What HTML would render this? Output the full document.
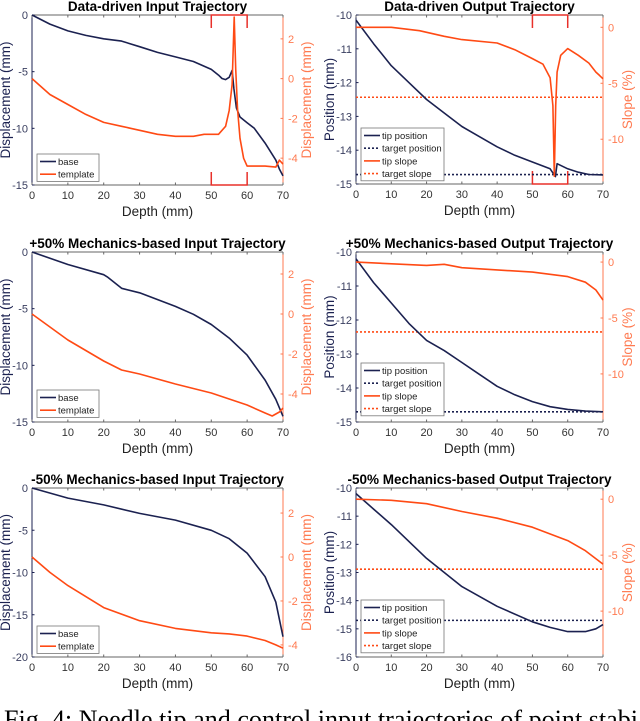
<!DOCTYPE html>
<html><head><meta charset="utf-8">
<style>
html,body{margin:0;padding:0;background:#fff;width:640px;height:721px;overflow:hidden}
svg{display:block}
text{font-family:"Liberation Sans","DejaVu Sans",sans-serif}
</style></head>
<body>
<svg id="fig" width="640" height="721" viewBox="0 0 640 721" xmlns="http://www.w3.org/2000/svg">
<text x="4" y="728" font-size="26" textLength="634" lengthAdjust="spacingAndGlyphs" fill="#000" style="font-family:'Liberation Serif',serif">Fig. 4: Needle tip and control input trajectories of point stabi</text>
</svg>
<script>
// ---------- data ----------
const xTicks = [0,10,20,30,40,50,60,70];
// Panel 1: data-driven input
const p1BaseX = [0,5,10,15,20,25,30,35,40,45,50,52,53,54,55,55.8,56.3,57,58,60,62,65,68,69,70];
const p1BaseY = [0,-0.8,-1.4,-1.8,-2.1,-2.3,-2.8,-3.3,-3.7,-4.1,-4.8,-5.3,-5.6,-5.7,-5.5,-4.9,-6.5,-8.2,-9.0,-9.5,-10.0,-11.3,-12.8,-13.6,-14.2];
const p1TplX = [0,5,10,15,20,25,30,35,40,45,48,52,54,55,55.8,56.4,56.8,57.3,58,59,60,65,68,69,70];
const p1TplY = [0,-0.8,-1.3,-1.8,-2.2,-2.4,-2.6,-2.8,-2.9,-2.9,-2.8,-2.8,-2.4,-1.6,-0.3,3.1,0.5,-1.5,-3.0,-4.0,-4.4,-4.4,-4.45,-4.1,-4.3];
// Panel 2: data-driven output
const p2PosX = [0,5,10,15,20,25,30,35,40,45,50,55,56.5,57,60,63,66,70];
const p2PosY = [-10.15,-10.85,-11.5,-12.0,-12.5,-12.9,-13.3,-13.6,-13.9,-14.15,-14.35,-14.55,-14.78,-14.4,-14.55,-14.65,-14.72,-14.73];
const p2SlopeX = [0,10,18,25,30,40,45,50,53,55,55.8,56.2,56.6,57,58,60,63,66,68,69,70];
const p2SlopeY = [0,0,-0.3,-0.8,-1.1,-1.4,-2.0,-2.8,-3.3,-4.5,-7.0,-13.3,-7.0,-4.0,-2.5,-1.9,-2.5,-3.2,-4.0,-4.3,-4.6];
const p2Targets = [-14.72,-6.25];
// Panel 3: +50% input
const p3BaseX = [0,10,20,21,25,30,40,45,50,55,60,65,68,70];
const p3BaseY = [0,-1.1,-2.0,-2.2,-3.2,-3.6,-4.8,-5.5,-6.4,-7.6,-9.1,-11.3,-13.0,-14.5];
const p3TplX = [0,10,20,25,30,40,50,60,65,67,69,70];
const p3TplY = [0,-1.3,-2.35,-2.8,-3.0,-3.5,-3.95,-4.55,-4.95,-5.1,-4.9,-4.7];
// Panel 4: +50% output
const p4PosX = [0,5,10,15,20,25,30,35,40,45,50,55,60,65,70];
const p4PosY = [-10.2,-10.9,-11.5,-12.1,-12.6,-12.9,-13.25,-13.6,-13.95,-14.2,-14.4,-14.55,-14.63,-14.68,-14.7];
const p4SlopeX = [0,20,25,30,40,50,60,65,68,70];
const p4SlopeY = [0,-0.3,-0.2,-0.5,-0.7,-0.9,-1.3,-1.8,-2.5,-3.4];
const p4Targets = [-14.7,-6.25];
// Panel 5: -50% input
const p5BaseX = [0,10,20,30,40,50,55,60,65,68,70];
const p5BaseY = [0,-1.2,-2.0,-3.0,-3.8,-5.0,-6.0,-7.7,-10.5,-13.5,-17.6];
const p5TplX = [0,5,10,20,30,40,50,55,60,65,68,70];
const p5TplY = [0,-0.7,-1.3,-2.3,-2.9,-3.25,-3.45,-3.5,-3.6,-3.8,-4.0,-4.15];
// Panel 6: -50% output
const p6PosX = [0,5,10,20,30,40,50,55,60,65,68,70];
const p6PosY = [-10.2,-10.75,-11.3,-12.5,-13.5,-14.2,-14.75,-14.95,-15.1,-15.1,-15.0,-14.85];
const p6SlopeX = [0,10,20,30,40,50,60,65,70];
const p6SlopeY = [0,-0.1,-0.4,-1.1,-1.7,-2.5,-3.7,-4.6,-5.8];
const p6Targets = [-14.7,-6.25];

const NAVY = '#1b2150', ORANGE = '#ff4a14', RAX = '#ff7a50';
const svg = document.getElementById('fig');
const NS = 'http://www.w3.org/2000/svg';
function mk(tag, attrs, parent){
  const e = document.createElementNS(NS, tag);
  for (const k in attrs) e.setAttribute(k, attrs[k]);
  (parent||svg).appendChild(e);
  return e;
}

function panel(cfg){
  const g = mk('g', {});
  
  
  const L=cfg.x0, R=cfg.x1, T=cfg.y0, B=cfg.y1;
  const sx = v => L + (v-0)/(70-0)*(R-L);
  const syL = v => T + (cfg.lmax - v)/(cfg.lmax - cfg.lmin)*(B-T);
  const syR = v => T + (cfg.rmax - v)/(cfg.rmax - cfg.rmin)*(B-T);
  const t = mk('text', {x:(L+R)/2, y:T-4, 'text-anchor':'middle', 'font-size':13.5, 'font-weight':'bold', fill:'#000'}, g);
  t.textContent = cfg.title;
  
  
  mk('line', {x1:L, y1:T, x2:R, y2:T, stroke:'#666', 'stroke-width':1}, g);
  const xa = mk('line', {x1:L, y1:B, x2:R, y2:B, stroke:'#666', 'stroke-width':1}, g);
  
  
  const la = mk('line', {x1:L, y1:T, x2:L, y2:B, stroke:NAVY, 'stroke-width':1}, g);
  
  
  const ra = mk('line', {x1:R, y1:T, x2:R, y2:B, stroke:RAX, 'stroke-width':1}, g);
  
  
  xTicks.forEach(v => {
    mk('line', {x1:sx(v), y1:B, x2:sx(v), y2:B-2.5, stroke:'#666'}, g);
    mk('line', {x1:sx(v), y1:T, x2:sx(v), y2:T+2.5, stroke:'#666'}, g);
    const tl = mk('text', {x:sx(v), y:B+14, 'text-anchor':'middle', 'font-size':11, fill:'#333'}, g);
    tl.textContent = v;
    
    
  });
  const xl = mk('text', {x:(L+R)/2, y:B+31, 'text-anchor':'middle', 'font-size':13.5, fill:'#222'}, g);
  xl.textContent = 'Depth (mm)';
  
  
  cfg.lticks.forEach(v => {
    mk('line', {x1:L, y1:syL(v), x2:L+2.5, y2:syL(v), stroke:NAVY}, g);
    const tl = mk('text', {x:L-4, y:syL(v)+4, 'text-anchor':'end', 'font-size':11, fill:'#3a3f60'}, g);
    tl.textContent = v;
    
    
  });
  const yl = mk('text', {x:0, y:0, 'text-anchor':'middle', 'font-size':13.5, fill:NAVY, transform:`translate(${cfg.lTitleX},${(T+B)/2}) rotate(-90)`}, g);
  yl.textContent = cfg.ltitle;
  
  
  cfg.rticks.forEach(v => {
    mk('line', {x1:R, y1:syR(v), x2:R-2.5, y2:syR(v), stroke:RAX}, g);
    const tl = mk('text', {x:R+5, y:syR(v)+4, 'text-anchor':'start', 'font-size':11, fill:RAX}, g);
    tl.textContent = v;
    
    
  });
  const yr = mk('text', {x:0, y:0, 'text-anchor':'middle', 'font-size':13.5, fill:RAX, transform:`translate(${cfg.rTitleX},${(T+B)/2}) rotate(-90)`}, g);
  yr.textContent = cfg.rtitle;
  
  
  if (cfg.bracket){
    const a = sx(50), b = sx(60);
    const br1 = mk('path', {d:`M${a},${T+13}V${T}H${b}V${T+13}`, fill:'none', stroke:'#e8302a', 'stroke-width':1.5}, g);
    
    
    const br2 = mk('path', {d:`M${a},${B-13}V${B}H${b}V${B-13}`, fill:'none', stroke:'#e8302a', 'stroke-width':1.5}, g);
    
    
  }
  if (cfg.targets){
    const tp = mk('line', {x1:L, x2:R, y1:syL(cfg.targets[0]), y2:syL(cfg.targets[0]), stroke:NAVY, 'stroke-width':1.6, 'stroke-dasharray':'2 2'}, g);
    
    
    const ts = mk('line', {x1:L, x2:R, y1:syR(cfg.targets[1]), y2:syR(cfg.targets[1]), stroke:ORANGE, 'stroke-width':1.6, 'stroke-dasharray':'2 2'}, g);
    
    
  }
  const pl = (xs, ys, sy, col, name) => {
    const p = mk('polyline', {points: xs.map((x,i)=>sx(x).toFixed(1)+','+sy(ys[i]).toFixed(1)).join(' '), fill:'none', stroke:col, 'stroke-width':1.6, 'stroke-linejoin':'round'}, g);
    
    
  };
  pl(cfg.lx, cfg.ly, syL, NAVY, cfg.lname);
  pl(cfg.rx, cfg.ry, syR, ORANGE, cfg.rname);
  const lg = mk('g', {}, g);
  
  
  const entries = cfg.legend;
  const lx = L+5, lh = entries.length*12.7+2, ly = cfg.legY;
  const lw = cfg.legW;
  mk('rect', {x:lx, y:ly, width:lw, height:lh, fill:'#fff', stroke:'#777', 'stroke-width':0.8}, lg);
  entries.forEach((e,i) => {
    const yy = ly + 7.5 + i*12.7;
    mk('line', {x1:lx+3, x2:lx+19, y1:yy, y2:yy, stroke:e[1], 'stroke-width':1.6, 'stroke-dasharray': e[2]?'2 2':'none'}, lg);
    const tx = mk('text', {x:lx+21, y:yy+3.5, 'font-size':9.5, fill:'#222'}, lg);
    tx.textContent = e[0];
    
    
  });
}

const inLeg = [['base',NAVY,false],['template',ORANGE,false]];
const outLeg = [['tip position',NAVY,false],['target position',NAVY,true],['tip slope',ORANGE,false],['target slope',ORANGE,true]];

panel({name:'panel-data-driven-input', title:'Data-driven Input Trajectory', x0:32,x1:283,y0:15,y1:185,
  lmin:-15,lmax:0,rmin:-5.35,rmax:3.2,lticks:[0,-5,-10,-15],rticks:[2,0,-2,-4],
  ltitle:'Displacement (mm)', rtitle:'Displacement (mm)', lTitleX:10, rTitleX:311,
  lx:p1BaseX, ly:p1BaseY, rx:p1TplX, ry:p1TplY, lname:'base-line', rname:'template-line',
  bracket:true, legend:inLeg, legY:154, legW:62});
panel({name:'panel-data-driven-output', title:'Data-driven Output Trajectory', x0:356,x1:603,y0:15,y1:184,
  lmin:-15,lmax:-10,rmin:-14.0,rmax:1.1,lticks:[-10,-11,-12,-13,-14,-15],rticks:[0,-5,-10],
  ltitle:'Position (mm)', rtitle:'Slope (%)', lTitleX:334, rTitleX:632,
  lx:p2PosX, ly:p2PosY, rx:p2SlopeX, ry:p2SlopeY, lname:'tip-position-line', rname:'tip-slope-line',
  targets:p2Targets, bracket:true, legend:outLeg, legY:128, legW:83});
panel({name:'panel-plus50-input', title:'+50% Mechanics-based Input Trajectory', x0:32,x1:283,y0:252,y1:422,
  lmin:-15,lmax:0,rmin:-5.4,rmax:3.1,lticks:[0,-5,-10,-15],rticks:[2,0,-2,-4],
  ltitle:'Displacement (mm)', rtitle:'Displacement (mm)', lTitleX:10, rTitleX:311,
  lx:p3BaseX, ly:p3BaseY, rx:p3TplX, ry:p3TplY, lname:'base-line', rname:'template-line',
  legend:inLeg, legY:390, legW:62});
panel({name:'panel-plus50-output', title:'+50% Mechanics-based Output Trajectory', x0:356,x1:603,y0:252,y1:422,
  lmin:-15,lmax:-10,rmin:-14.3,rmax:0.9,lticks:[-10,-11,-12,-13,-14,-15],rticks:[0,-5,-10],
  ltitle:'Position (mm)', rtitle:'Slope (%)', lTitleX:334, rTitleX:632,
  lx:p4PosX, ly:p4PosY, rx:p4SlopeX, ry:p4SlopeY, lname:'tip-position-line', rname:'tip-slope-line',
  targets:p4Targets, legend:outLeg, legY:363, legW:83});
panel({name:'panel-minus50-input', title:'-50% Mechanics-based Input Trajectory', x0:32,x1:283,y0:488,y1:657,
  lmin:-20,lmax:0,rmin:-4.55,rmax:3.14,lticks:[0,-5,-10,-15,-20],rticks:[2,0,-2,-4],
  ltitle:'Displacement (mm)', rtitle:'Displacement (mm)', lTitleX:10, rTitleX:311,
  lx:p5BaseX, ly:p5BaseY, rx:p5TplX, ry:p5TplY, lname:'base-line', rname:'template-line',
  legend:inLeg, legY:626, legW:62});
panel({name:'panel-minus50-output', title:'-50% Mechanics-based Output Trajectory', x0:356,x1:603,y0:488,y1:657,
  lmin:-16,lmax:-10,rmin:-14.1,rmax:1.0,lticks:[-10,-11,-12,-13,-14,-15,-16],rticks:[0,-5,-10],
  ltitle:'Position (mm)', rtitle:'Slope (%)', lTitleX:334, rTitleX:632,
  lx:p6PosX, ly:p6PosY, rx:p6SlopeX, ry:p6SlopeY, lname:'tip-position-line', rname:'tip-slope-line',
  targets:p6Targets, legend:outLeg, legY:600, legW:83});
</script>
</body></html>
